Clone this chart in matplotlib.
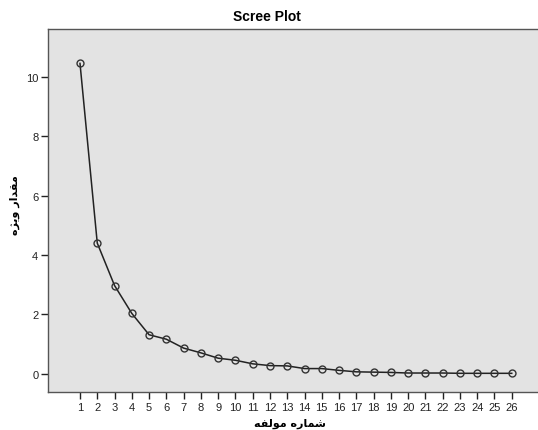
import matplotlib
matplotlib.use("Agg")
import matplotlib.pyplot as plt
from matplotlib import rcParams

rcParams['font.family'] = ['Liberation Sans', 'DejaVu Sans']
rcParams['font.size'] = 8

# component numbers and eigenvalues
components = list(range(1, 27))
eigenvalues = [10.46, 4.40, 2.97, 2.03, 1.31, 1.16, 0.86, 0.70, 0.52, 0.45,
               0.33, 0.27, 0.26, 0.17, 0.17, 0.11, 0.06, 0.05, 0.04, 0.02,
               0.02, 0.02, 0.01, 0.01, 0.01, 0.01]
y_ticks = [0, 2, 4, 6, 8, 10]

# Persian labels written with presentation forms in visual order
x_label = "\uFEEA\uFED4\uFEDF\uFEEE\uFEE3 \uFEE9\uFEAD\uFE8E\uFEE4\uFEB7"   # شماره مولفه
y_label = "\uFEE9\uFB8B\uFEF3\uFEED \uFEAD\uFE8D\uFEAA\uFED8\uFEE3"         # مقدار ویژه

W, H = 538, 431
fig = plt.figure(figsize=(W / 100, H / 100), dpi=100)
ax = fig.add_axes([48 / W, (H - 393) / H, (W - 48) / W, (393 - 30) / H])
ax.set_facecolor('#e3e3e3')

ax.plot(components, eigenvalues, color='#222222', linewidth=1.1,
        marker='o', markersize=5, markerfacecolor='none',
        markeredgecolor='#333333', markeredgewidth=1.0)

ax.set_xlim(1 - 32 / 17.27, 1 + (W - 80) / 17.27)
ax.set_ylim(-0.62, 11.62)
ax.set_xticks(components)
ax.set_yticks(y_ticks)
ax.tick_params(direction='out', length=5, width=1, colors='#222222', pad=2)

for side in ['left', 'bottom', 'top']:
    ax.spines[side].set_color('#555555')
    ax.spines[side].set_linewidth(1.0)
ax.spines['right'].set_visible(False)

fig.text(267 / W, 1 - 17 / H, "Scree Plot", ha='center', va='center',
         fontsize=10, fontweight='bold')
fig.text(290 / W, 1 - 424 / H, x_label, ha='center', va='center',
         fontsize=8, fontweight='bold', family='DejaVu Sans')
fig.text(15 / W, 1 - 205 / H, y_label, ha='center', va='center', rotation=90,
         fontsize=8, fontweight='bold', family='DejaVu Sans')

fig.savefig("out.png", dpi=100)
